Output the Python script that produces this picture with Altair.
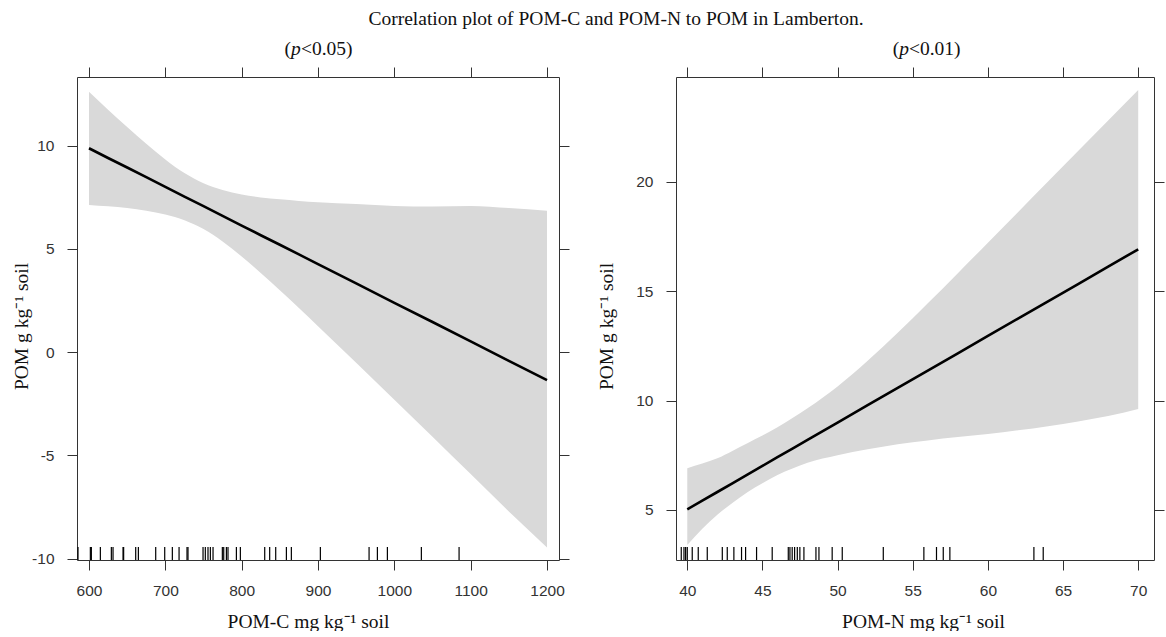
import altair as alt
import pandas as pd

# ---------------- data ----------------
main_title = "Correlation plot of POM-C and POM-N to POM in Lamberton."
y_title = "POM g kg\u207b\u00b9 soil"
xc_title = "POM-C mg kg\u207b\u00b9 soil"
xn_title = "POM-N mg kg\u207b\u00b9 soil"
pc_pieces = ["(", "p", "<0.05)"]
pn_pieces = ["(", "p", "<0.01)"]

# Left panel: POM-C
c_x = [600, 625, 650, 675, 700, 725, 750, 775, 800, 825, 850, 875, 900, 950,
       1000, 1050, 1100, 1150, 1200]
c_fit = [9.87, 9.40, 8.94, 8.47, 8.00, 7.53, 7.07, 6.60, 6.13, 5.66, 5.20, 4.73,
         4.26, 3.33, 2.39, 1.46, 0.52, -0.42, -1.35]
c_upper = [12.61, 11.74, 10.90, 10.09, 9.33, 8.67, 8.18, 7.85, 7.63, 7.49, 7.40,
           7.32, 7.26, 7.17, 7.08, 7.05, 7.08, 6.98, 6.85]
c_lower = [7.13, 7.06, 6.98, 6.85, 6.67, 6.39, 5.96, 5.36, 4.63, 3.83, 3.00, 2.14,
           1.26, -0.51, -2.30, -4.09, -5.90, -7.71, -9.45]
c_rug = [585.6, 601.8, 603.1, 614.9, 629.3, 631.5, 644.6, 645.4, 661.2, 664.7,
         687.4, 699.2, 709.2, 718.0, 728.4, 729.7, 749.4, 752.4, 755.9, 759.0,
         762.5, 774.7, 776.5, 780.0, 782.1, 793.1, 798.3, 830.2, 836.7, 844.6,
         858.6, 865.1, 903.1, 966.9, 977.8, 990.9, 1035.4, 1084.8]
c_xticks = [600, 700, 800, 900, 1000, 1100, 1200]
c_yticks = [-10, -5, 0, 5, 10]

# Right panel: POM-N
n_x = [40, 41, 42, 43, 44, 45, 46, 47, 48, 50, 52, 54, 56, 58, 60, 62, 64, 66, 68, 70]
n_fit = [5.03, 5.43, 5.82, 6.22, 6.62, 7.01, 7.41, 7.80, 8.20, 8.99, 9.79, 10.58,
         11.37, 12.16, 12.96, 13.75, 14.54, 15.33, 16.13, 16.92]
n_upper = [6.91, 7.12, 7.36, 7.70, 8.05, 8.40, 8.78, 9.20, 9.65, 10.65, 11.82,
           13.10, 14.45, 15.83, 17.22, 18.62, 20.02, 21.42, 22.81, 24.20]
n_lower = [3.40, 4.14, 4.78, 5.32, 5.81, 6.22, 6.60, 6.90, 7.16, 7.50, 7.77, 8.00,
           8.18, 8.33, 8.47, 8.64, 8.83, 9.05, 9.30, 9.62]
n_rug = [39.60, 39.78, 39.89, 40.0, 40.33, 40.73, 41.33, 42.33, 42.66, 43.10,
         43.61, 43.88, 44.61, 45.65, 46.72, 46.83, 46.98, 47.14, 47.32, 47.49,
         47.76, 48.56, 48.76, 49.64, 50.31, 53.04, 55.74, 56.58, 57.03, 57.47,
         63.06, 63.68]
n_xticks = [40, 45, 50, 55, 60, 65, 70]
n_yticks = [5, 10, 15, 20]

# ---------------- styling ----------------
SERIF = "Liberation Serif"
SANS = "Liberation Sans"
FRAME = "#333333"
H = 483

base_axis = dict(domainColor=FRAME, domainWidth=1, tickColor=FRAME, tickWidth=1,
                 tickSize=10, grid=False, labelFont=SANS, labelFontSize=15.5,
                 labelColor="#333333", labelPadding=13, labelExpr="'' + datum.value",
                 titleFont=SERIF, titleFontSize=19.5, titleFontWeight="normal",
                 titleColor="#111111")


def panel(x, fit, lo, hi, rug, xdom, ydom, xticks, yticks, xtitle, w,
          xtitle_x, ytitle_x, pieces, piece_xs, extra_text=None):
    band_df = pd.DataFrame({"x": x, "fit": fit, "lo": lo, "hi": hi})
    rug_df = pd.DataFrame({"r": rug})
    xs = alt.Scale(domain=xdom, nice=False, zero=False)
    ys = alt.Scale(domain=ydom, nice=False, zero=False)

    ax_bottom = alt.Axis(orient="bottom", values=xticks, title=xtitle,
                         titleX=xtitle_x, titleY=67, titleAlign="center",
                         titleBaseline="alphabetic", **base_axis)
    ax_left = alt.Axis(orient="left", values=yticks, title=y_title,
                       titleX=ytitle_x, titleY=249, titleAngle=270,
                       titleAlign="center", titleBaseline="middle", **base_axis)
    ax_top = alt.Axis(orient="top", values=xticks, labels=False, title=None,
                      **base_axis)
    ax_right = alt.Axis(orient="right", values=yticks, labels=False, title=None,
                        **base_axis)

    band = alt.Chart(band_df).mark_area(color="#d9d9d9", interpolate="monotone").encode(
        x=alt.X("x:Q", scale=xs, axis=ax_bottom),
        y=alt.Y("hi:Q", scale=ys, axis=ax_left),
        y2="lo:Q",
    )
    line = alt.Chart(band_df).mark_line(color="black", strokeWidth=2.6).encode(
        x=alt.X("x:Q", scale=xs, axis=ax_top),
        y=alt.Y("fit:Q", scale=ys, axis=ax_right),
    )
    rugs = alt.Chart(rug_df).mark_rule(color="black", strokeWidth=1.2).encode(
        x=alt.X("r:Q", scale=xs, axis=None),
        y=alt.value(H),
        y2=alt.value(H - 13),
    )
    layers = [band, rugs, line]
    for txt, px in zip(pieces, piece_xs):
        tdf = pd.DataFrame({"t": [txt]})
        layers.append(
            alt.Chart(tdf).mark_text(
                font=SERIF, fontSize=19.5, align="left", baseline="alphabetic",
                fontStyle="italic" if txt == "p" else "normal", color="#111111",
            ).encode(text="t:N", x=alt.value(px), y=alt.value(-22))
        )
    if extra_text is not None:
        tdf = pd.DataFrame({"t": [extra_text[0]]})
        layers.append(
            alt.Chart(tdf).mark_text(
                font=SERIF, fontSize=19.5, align="center", baseline="alphabetic",
                color="#111111",
            ).encode(text="t:N", x=alt.value(extra_text[1]), y=alt.value(extra_text[2]))
        )
    return alt.layer(*layers).resolve_axis(x="independent", y="independent").properties(
        width=w, height=H)


left = panel(c_x, c_fit, c_lower, c_upper, c_rug, [584.3, 1215.7], [-10.06, 13.32],
             c_xticks, c_yticks, xc_title, 482, 231, -56, pc_pieces,
             [207.6, 214.1, 223.9], extra_text=(main_title, 539, -52))
right = panel(n_x, n_fit, n_lower, n_upper, n_rug, [39.25, 71.05], [2.71, 24.80],
              n_xticks, n_yticks, xn_title, 478, 247, -70, pn_pieces,
              [216.7, 223.2, 233.0])

chart = alt.hconcat(left, right, spacing=117, bounds="flush").properties(
    padding={"left": 11, "top": 9, "right": 0, "bottom": 0},
    background="white",
).configure_view(stroke=None)

chart.save("out.html", embed_options={"renderer": "svg", "actions": False})
